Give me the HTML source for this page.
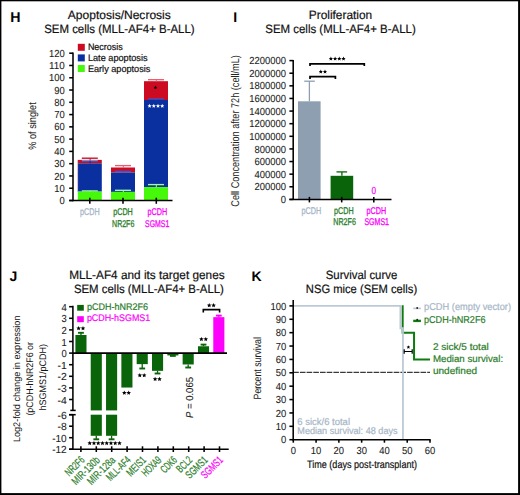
<!DOCTYPE html>
<html><head><meta charset="utf-8"><style>
html,body{margin:0;padding:0;background:#fff;}
body{width:520px;height:495px;overflow:hidden;}
svg{display:block;font-family:"Liberation Sans", sans-serif;text-rendering:geometricPrecision;}
</style></head><body>
<svg width="520" height="495" viewBox="0 0 520 495">
<rect width="520" height="495" fill="#fff"/>
<rect x="0.00" y="0.00" width="520.00" height="1.30" fill="#000"/>
<rect x="0.00" y="0.00" width="1.40" height="495.00" fill="#000"/>
<rect x="518.10" y="0.00" width="1.90" height="495.00" fill="#000"/>
<rect x="0.00" y="493.10" width="520.00" height="1.90" fill="#000"/>
<text x="10.20" y="21.50" font-size="14.2" fill="#000" font-weight="bold" >H</text>
<text x="233.20" y="21.50" font-size="14" fill="#000" font-weight="bold" >I</text>
<text x="9.60" y="281.00" font-size="14" fill="#000" font-weight="bold" >J</text>
<text x="251.40" y="281.00" font-size="14" fill="#000" font-weight="bold" >K</text>
<text x="119.30" y="19.40" font-size="12.1" fill="#111" stroke="#111" stroke-width="0.2" text-anchor="middle" textLength="103.00" lengthAdjust="spacingAndGlyphs" >Apoptosis/Necrosis</text>
<text x="119.40" y="33.40" font-size="12.1" fill="#111" stroke="#111" stroke-width="0.2" text-anchor="middle" textLength="150.50" lengthAdjust="spacingAndGlyphs" >SEM cells (MLL-AF4+ B-ALL)</text>
<rect x="77.80" y="159.90" width="24.00" height="3.40" fill="#cc0a22"/>
<rect x="77.80" y="163.30" width="24.00" height="28.30" fill="#0a30a0"/>
<rect x="77.80" y="191.60" width="24.00" height="8.90" fill="#46f80a"/>
<line x1="81.80" y1="158.20" x2="97.80" y2="158.20" stroke="#cc0a22" stroke-width="1.35" />
<line x1="90.10" y1="158.20" x2="90.10" y2="160.20" stroke="#cc0a22" stroke-width="1.0" />
<line x1="81.80" y1="160.60" x2="97.80" y2="160.60" stroke="#5a9af0" stroke-width="1.35" />
<line x1="90.10" y1="160.60" x2="90.10" y2="163.50" stroke="#0a30a0" stroke-width="1.0" />
<line x1="81.80" y1="190.90" x2="97.80" y2="190.90" stroke="#90ff80" stroke-width="1.35" />
<line x1="90.10" y1="190.90" x2="90.10" y2="191.80" stroke="#90ff80" stroke-width="1.0" />
<rect x="111.00" y="167.50" width="24.00" height="5.00" fill="#cc0a22"/>
<rect x="111.00" y="172.50" width="24.00" height="19.40" fill="#0a30a0"/>
<rect x="111.00" y="191.90" width="24.00" height="8.60" fill="#46f80a"/>
<line x1="115.00" y1="165.60" x2="131.00" y2="165.60" stroke="#e06070" stroke-width="1.35" />
<line x1="123.30" y1="165.60" x2="123.30" y2="167.80" stroke="#e06070" stroke-width="1.0" />
<line x1="115.00" y1="171.30" x2="131.00" y2="171.30" stroke="#4a50c0" stroke-width="1.35" />
<line x1="123.30" y1="171.30" x2="123.30" y2="172.70" stroke="#4a50c0" stroke-width="1.0" />
<line x1="115.00" y1="190.30" x2="131.00" y2="190.30" stroke="#a0ff90" stroke-width="1.35" />
<line x1="123.30" y1="190.30" x2="123.30" y2="192.00" stroke="#a0ff90" stroke-width="1.0" />
<rect x="144.00" y="81.20" width="24.00" height="18.80" fill="#cc0a22"/>
<rect x="144.00" y="100.00" width="24.00" height="87.10" fill="#0a30a0"/>
<rect x="144.00" y="187.10" width="24.00" height="13.40" fill="#46f80a"/>
<line x1="148.00" y1="79.70" x2="164.00" y2="79.70" stroke="#e86070" stroke-width="1.35" />
<line x1="156.30" y1="79.70" x2="156.30" y2="81.40" stroke="#e86070" stroke-width="1.0" />
<line x1="148.00" y1="98.70" x2="164.00" y2="98.70" stroke="#3050d0" stroke-width="1.35" />
<line x1="156.30" y1="98.70" x2="156.30" y2="100.20" stroke="#3050d0" stroke-width="1.0" />
<line x1="148.00" y1="184.60" x2="164.00" y2="184.60" stroke="#a0ff90" stroke-width="1.35" />
<line x1="156.30" y1="184.60" x2="156.30" y2="187.30" stroke="#a0ff90" stroke-width="1.0" />
<line x1="77.60" y1="160.20" x2="77.60" y2="188.50" stroke="#f4a8b0" stroke-width="0.6" />
<line x1="77.60" y1="188.50" x2="77.60" y2="192.00" stroke="#a8b8f0" stroke-width="0.6" />
<line x1="73.00" y1="52.50" x2="73.00" y2="201.20" stroke="#000" stroke-width="1.55" />
<line x1="69.20" y1="200.50" x2="73.00" y2="200.50" stroke="#000" stroke-width="1.55" />
<text x="64.70" y="204.10" font-size="10.2" fill="#1a1a1a" stroke="#1a1a1a" stroke-width="0.08" text-anchor="end" textLength="5.25" lengthAdjust="spacingAndGlyphs" >0</text>
<line x1="69.20" y1="188.22" x2="73.00" y2="188.22" stroke="#000" stroke-width="1.55" />
<text x="64.70" y="191.82" font-size="10.2" fill="#1a1a1a" stroke="#1a1a1a" stroke-width="0.08" text-anchor="end" textLength="10.50" lengthAdjust="spacingAndGlyphs" >10</text>
<line x1="69.20" y1="175.95" x2="73.00" y2="175.95" stroke="#000" stroke-width="1.55" />
<text x="64.70" y="179.55" font-size="10.2" fill="#1a1a1a" stroke="#1a1a1a" stroke-width="0.08" text-anchor="end" textLength="10.50" lengthAdjust="spacingAndGlyphs" >20</text>
<line x1="69.20" y1="163.68" x2="73.00" y2="163.68" stroke="#000" stroke-width="1.55" />
<text x="64.70" y="167.28" font-size="10.2" fill="#1a1a1a" stroke="#1a1a1a" stroke-width="0.08" text-anchor="end" textLength="10.50" lengthAdjust="spacingAndGlyphs" >30</text>
<line x1="69.20" y1="151.40" x2="73.00" y2="151.40" stroke="#000" stroke-width="1.55" />
<text x="64.70" y="155.00" font-size="10.2" fill="#1a1a1a" stroke="#1a1a1a" stroke-width="0.08" text-anchor="end" textLength="10.50" lengthAdjust="spacingAndGlyphs" >40</text>
<line x1="69.20" y1="139.12" x2="73.00" y2="139.12" stroke="#000" stroke-width="1.55" />
<text x="64.70" y="142.72" font-size="10.2" fill="#1a1a1a" stroke="#1a1a1a" stroke-width="0.08" text-anchor="end" textLength="10.50" lengthAdjust="spacingAndGlyphs" >50</text>
<line x1="69.20" y1="126.85" x2="73.00" y2="126.85" stroke="#000" stroke-width="1.55" />
<text x="64.70" y="130.45" font-size="10.2" fill="#1a1a1a" stroke="#1a1a1a" stroke-width="0.08" text-anchor="end" textLength="10.50" lengthAdjust="spacingAndGlyphs" >60</text>
<line x1="69.20" y1="114.58" x2="73.00" y2="114.58" stroke="#000" stroke-width="1.55" />
<text x="64.70" y="118.17" font-size="10.2" fill="#1a1a1a" stroke="#1a1a1a" stroke-width="0.08" text-anchor="end" textLength="10.50" lengthAdjust="spacingAndGlyphs" >70</text>
<line x1="69.20" y1="102.30" x2="73.00" y2="102.30" stroke="#000" stroke-width="1.55" />
<text x="64.70" y="105.90" font-size="10.2" fill="#1a1a1a" stroke="#1a1a1a" stroke-width="0.08" text-anchor="end" textLength="10.50" lengthAdjust="spacingAndGlyphs" >80</text>
<line x1="69.20" y1="90.02" x2="73.00" y2="90.02" stroke="#000" stroke-width="1.55" />
<text x="64.70" y="93.62" font-size="10.2" fill="#1a1a1a" stroke="#1a1a1a" stroke-width="0.08" text-anchor="end" textLength="10.50" lengthAdjust="spacingAndGlyphs" >90</text>
<line x1="69.20" y1="77.75" x2="73.00" y2="77.75" stroke="#000" stroke-width="1.55" />
<text x="64.70" y="81.35" font-size="10.2" fill="#1a1a1a" stroke="#1a1a1a" stroke-width="0.08" text-anchor="end" textLength="15.75" lengthAdjust="spacingAndGlyphs" >100</text>
<line x1="69.20" y1="65.47" x2="73.00" y2="65.47" stroke="#000" stroke-width="1.55" />
<text x="64.70" y="69.07" font-size="10.2" fill="#1a1a1a" stroke="#1a1a1a" stroke-width="0.08" text-anchor="end" textLength="15.75" lengthAdjust="spacingAndGlyphs" >110</text>
<line x1="69.20" y1="53.20" x2="73.00" y2="53.20" stroke="#000" stroke-width="1.55" />
<text x="64.70" y="56.80" font-size="10.2" fill="#1a1a1a" stroke="#1a1a1a" stroke-width="0.08" text-anchor="end" textLength="15.75" lengthAdjust="spacingAndGlyphs" >120</text>
<line x1="69.20" y1="200.50" x2="172.50" y2="200.50" stroke="#000" stroke-width="1.55" />
<line x1="89.80" y1="197.70" x2="89.80" y2="203.80" stroke="#000" stroke-width="1.55" />
<line x1="123.00" y1="197.70" x2="123.00" y2="203.80" stroke="#000" stroke-width="1.55" />
<line x1="156.30" y1="197.70" x2="156.30" y2="203.80" stroke="#000" stroke-width="1.55" />
<rect x="77.80" y="43.80" width="7.00" height="7.00" fill="#cc0a22"/>
<text x="87.90" y="50.30" font-size="9.4" fill="#111" stroke="#111" stroke-width="0.2" textLength="34.80" lengthAdjust="spacingAndGlyphs" >Necrosis</text>
<rect x="77.80" y="54.40" width="7.00" height="7.00" fill="#0a30a0"/>
<text x="87.90" y="61.00" font-size="9.4" fill="#111" stroke="#111" stroke-width="0.2" textLength="59.70" lengthAdjust="spacingAndGlyphs" >Late apoptosis</text>
<rect x="77.80" y="65.00" width="7.00" height="7.00" fill="#46f80a"/>
<text x="87.90" y="71.70" font-size="9.4" fill="#111" stroke="#111" stroke-width="0.2" textLength="62.50" lengthAdjust="spacingAndGlyphs" >Early apoptosis</text>
<text x="36.20" y="126.00" font-size="10.8" fill="#1a1a1a" stroke="#1a1a1a" stroke-width="0.05" text-anchor="middle" textLength="47.50" lengthAdjust="spacingAndGlyphs" transform="rotate(-90 36.20 126.00)" >% of singlet</text>
<path d="M155.50,85.59 L156.02,86.77 L157.31,86.90 L156.35,87.77 L156.62,89.03 L155.50,88.38 L154.38,89.03 L154.65,87.77 L153.69,86.90 L154.98,86.77 Z" fill="#000"/>
<path d="M149.60,103.82 L150.21,105.18 L151.69,105.34 L150.58,106.34 L150.89,107.80 L149.60,107.05 L148.31,107.80 L148.62,106.34 L147.51,105.34 L148.99,105.18 Z M153.80,103.82 L154.41,105.18 L155.89,105.34 L154.78,106.34 L155.09,107.80 L153.80,107.05 L152.51,107.80 L152.82,106.34 L151.71,105.34 L153.19,105.18 Z M158.00,103.82 L158.61,105.18 L160.09,105.34 L158.98,106.34 L159.29,107.80 L158.00,107.05 L156.71,107.80 L157.02,106.34 L155.91,105.34 L157.39,105.18 Z M162.20,103.82 L162.81,105.18 L164.29,105.34 L163.18,106.34 L163.49,107.80 L162.20,107.05 L160.91,107.80 L161.22,106.34 L160.11,105.34 L161.59,105.18 Z" fill="#fff"/>
<text x="89.80" y="215.40" font-size="9.8" fill="#a6b6c6" stroke="#a6b6c6" stroke-width="0.3" text-anchor="middle" textLength="19.60" lengthAdjust="spacingAndGlyphs" >pCDH</text>
<text x="123.00" y="215.40" font-size="9.8" fill="#2a7d2a" stroke="#2a7d2a" stroke-width="0.3" text-anchor="middle" textLength="19.60" lengthAdjust="spacingAndGlyphs" >pCDH</text>
<text x="123.20" y="226.80" font-size="9.8" fill="#2a7d2a" stroke="#2a7d2a" stroke-width="0.3" text-anchor="middle" textLength="22.30" lengthAdjust="spacingAndGlyphs" >NR2F6</text>
<text x="157.40" y="215.40" font-size="9.8" fill="#fc00fc" stroke="#fc00fc" stroke-width="0.3" text-anchor="middle" textLength="19.60" lengthAdjust="spacingAndGlyphs" >pCDH</text>
<text x="157.20" y="226.80" font-size="9.8" fill="#fc00fc" stroke="#fc00fc" stroke-width="0.3" text-anchor="middle" textLength="24.30" lengthAdjust="spacingAndGlyphs" >SGMS1</text>
<text x="340.50" y="19.40" font-size="12.1" fill="#111" stroke="#111" stroke-width="0.2" text-anchor="middle" textLength="63.50" lengthAdjust="spacingAndGlyphs" >Proliferation</text>
<text x="340.50" y="33.40" font-size="12.1" fill="#111" stroke="#111" stroke-width="0.2" text-anchor="middle" textLength="150.50" lengthAdjust="spacingAndGlyphs" >SEM cells (MLL-AF4+ B-ALL)</text>
<rect x="298.00" y="101.30" width="22.60" height="98.10" fill="#8d9fb1"/>
<line x1="309.40" y1="101.30" x2="309.40" y2="81.20" stroke="#8d9fb1" stroke-width="1.3" />
<line x1="304.20" y1="81.20" x2="314.80" y2="81.20" stroke="#8d9fb1" stroke-width="1.3" />
<rect x="330.60" y="175.80" width="22.60" height="23.60" fill="#0a640a"/>
<line x1="341.90" y1="175.80" x2="341.90" y2="171.90" stroke="#0a640a" stroke-width="1.3" />
<line x1="336.50" y1="171.90" x2="347.10" y2="171.90" stroke="#0a640a" stroke-width="1.3" />
<line x1="293.20" y1="59.90" x2="293.20" y2="200.10" stroke="#000" stroke-width="1.55" />
<line x1="289.40" y1="199.40" x2="293.20" y2="199.40" stroke="#000" stroke-width="1.55" />
<text x="286.00" y="203.00" font-size="10.2" fill="#1a1a1a" stroke="#1a1a1a" stroke-width="0.08" text-anchor="end" textLength="5.25" lengthAdjust="spacingAndGlyphs" >0</text>
<line x1="289.40" y1="186.78" x2="293.20" y2="186.78" stroke="#000" stroke-width="1.55" />
<text x="286.00" y="190.38" font-size="10.2" fill="#1a1a1a" stroke="#1a1a1a" stroke-width="0.08" text-anchor="end" textLength="31.50" lengthAdjust="spacingAndGlyphs" >200000</text>
<line x1="289.40" y1="174.16" x2="293.20" y2="174.16" stroke="#000" stroke-width="1.55" />
<text x="286.00" y="177.76" font-size="10.2" fill="#1a1a1a" stroke="#1a1a1a" stroke-width="0.08" text-anchor="end" textLength="31.50" lengthAdjust="spacingAndGlyphs" >400000</text>
<line x1="289.40" y1="161.55" x2="293.20" y2="161.55" stroke="#000" stroke-width="1.55" />
<text x="286.00" y="165.15" font-size="10.2" fill="#1a1a1a" stroke="#1a1a1a" stroke-width="0.08" text-anchor="end" textLength="31.50" lengthAdjust="spacingAndGlyphs" >600000</text>
<line x1="289.40" y1="148.93" x2="293.20" y2="148.93" stroke="#000" stroke-width="1.55" />
<text x="286.00" y="152.53" font-size="10.2" fill="#1a1a1a" stroke="#1a1a1a" stroke-width="0.08" text-anchor="end" textLength="31.50" lengthAdjust="spacingAndGlyphs" >800000</text>
<line x1="289.40" y1="136.31" x2="293.20" y2="136.31" stroke="#000" stroke-width="1.55" />
<text x="286.00" y="139.91" font-size="10.2" fill="#1a1a1a" stroke="#1a1a1a" stroke-width="0.08" text-anchor="end" textLength="36.75" lengthAdjust="spacingAndGlyphs" >1000000</text>
<line x1="289.40" y1="123.69" x2="293.20" y2="123.69" stroke="#000" stroke-width="1.55" />
<text x="286.00" y="127.29" font-size="10.2" fill="#1a1a1a" stroke="#1a1a1a" stroke-width="0.08" text-anchor="end" textLength="36.75" lengthAdjust="spacingAndGlyphs" >1200000</text>
<line x1="289.40" y1="111.07" x2="293.20" y2="111.07" stroke="#000" stroke-width="1.55" />
<text x="286.00" y="114.67" font-size="10.2" fill="#1a1a1a" stroke="#1a1a1a" stroke-width="0.08" text-anchor="end" textLength="36.75" lengthAdjust="spacingAndGlyphs" >1400000</text>
<line x1="289.40" y1="98.45" x2="293.20" y2="98.45" stroke="#000" stroke-width="1.55" />
<text x="286.00" y="102.05" font-size="10.2" fill="#1a1a1a" stroke="#1a1a1a" stroke-width="0.08" text-anchor="end" textLength="36.75" lengthAdjust="spacingAndGlyphs" >1600000</text>
<line x1="289.40" y1="85.84" x2="293.20" y2="85.84" stroke="#000" stroke-width="1.55" />
<text x="286.00" y="89.44" font-size="10.2" fill="#1a1a1a" stroke="#1a1a1a" stroke-width="0.08" text-anchor="end" textLength="36.75" lengthAdjust="spacingAndGlyphs" >1800000</text>
<line x1="289.40" y1="73.22" x2="293.20" y2="73.22" stroke="#000" stroke-width="1.55" />
<text x="286.00" y="76.82" font-size="10.2" fill="#1a1a1a" stroke="#1a1a1a" stroke-width="0.08" text-anchor="end" textLength="36.75" lengthAdjust="spacingAndGlyphs" >2000000</text>
<line x1="289.40" y1="60.60" x2="293.20" y2="60.60" stroke="#000" stroke-width="1.55" />
<text x="286.00" y="64.20" font-size="10.2" fill="#1a1a1a" stroke="#1a1a1a" stroke-width="0.08" text-anchor="end" textLength="36.75" lengthAdjust="spacingAndGlyphs" >2200000</text>
<line x1="289.40" y1="199.40" x2="391.50" y2="199.40" stroke="#000" stroke-width="1.55" />
<line x1="309.40" y1="196.90" x2="309.40" y2="202.40" stroke="#000" stroke-width="1.55" />
<line x1="341.70" y1="196.90" x2="341.70" y2="202.40" stroke="#000" stroke-width="1.55" />
<line x1="373.80" y1="196.90" x2="373.80" y2="202.40" stroke="#000" stroke-width="1.55" />
<text x="239.40" y="130.90" font-size="11.2" fill="#222" text-anchor="middle" textLength="151.50" lengthAdjust="spacingAndGlyphs" transform="rotate(-90 239.40 130.90)" >Cell Concentration after 72h (cell/mL)</text>
<text x="373.80" y="193.80" font-size="10.2" fill="#fc00fc" stroke="#fc00fc" stroke-width="0.2" text-anchor="middle" textLength="4.60" lengthAdjust="spacingAndGlyphs" >0</text>
<path d="M310,66 V63.8 H364.3 V66" stroke="#000" stroke-width="1.7" fill="none" />
<path d="M310,79 V76.7 H335.4 V79" stroke="#000" stroke-width="1.7" fill="none" />
<path d="M330.90,56.62 L331.51,57.98 L332.99,58.14 L331.88,59.14 L332.19,60.60 L330.90,59.85 L329.61,60.60 L329.92,59.14 L328.81,58.14 L330.29,57.98 Z M335.10,56.62 L335.71,57.98 L337.19,58.14 L336.08,59.14 L336.39,60.60 L335.10,59.85 L333.81,60.60 L334.12,59.14 L333.01,58.14 L334.49,57.98 Z M339.30,56.62 L339.91,57.98 L341.39,58.14 L340.28,59.14 L340.59,60.60 L339.30,59.85 L338.01,60.60 L338.32,59.14 L337.21,58.14 L338.69,57.98 Z M343.50,56.62 L344.11,57.98 L345.59,58.14 L344.48,59.14 L344.79,60.60 L343.50,59.85 L342.21,60.60 L342.52,59.14 L341.41,58.14 L342.89,57.98 Z" fill="#000"/>
<path d="M320.80,69.52 L321.41,70.88 L322.89,71.04 L321.78,72.04 L322.09,73.50 L320.80,72.75 L319.51,73.50 L319.82,72.04 L318.71,71.04 L320.19,70.88 Z M325.00,69.52 L325.61,70.88 L327.09,71.04 L325.98,72.04 L326.29,73.50 L325.00,72.75 L323.71,73.50 L324.02,72.04 L322.91,71.04 L324.39,70.88 Z" fill="#000"/>
<text x="311.40" y="213.80" font-size="9.8" fill="#a6b6c6" stroke="#a6b6c6" stroke-width="0.3" text-anchor="middle" textLength="19.60" lengthAdjust="spacingAndGlyphs" >pCDH</text>
<text x="343.90" y="213.80" font-size="9.8" fill="#2a7d2a" stroke="#2a7d2a" stroke-width="0.3" text-anchor="middle" textLength="19.60" lengthAdjust="spacingAndGlyphs" >pCDH</text>
<text x="344.60" y="224.80" font-size="9.8" fill="#2a7d2a" stroke="#2a7d2a" stroke-width="0.3" text-anchor="middle" textLength="22.50" lengthAdjust="spacingAndGlyphs" >NR2F6</text>
<text x="376.30" y="213.80" font-size="9.8" fill="#fc00fc" stroke="#fc00fc" stroke-width="0.3" text-anchor="middle" textLength="19.60" lengthAdjust="spacingAndGlyphs" >pCDH</text>
<text x="376.70" y="224.80" font-size="9.8" fill="#fc00fc" stroke="#fc00fc" stroke-width="0.3" text-anchor="middle" textLength="24.50" lengthAdjust="spacingAndGlyphs" >SGMS1</text>
<text x="146.90" y="279.20" font-size="12.1" fill="#111" stroke="#111" stroke-width="0.2" text-anchor="middle" textLength="155.50" lengthAdjust="spacingAndGlyphs" >MLL-AF4 and its target genes</text>
<text x="148.90" y="293.00" font-size="12.1" fill="#111" stroke="#111" stroke-width="0.2" text-anchor="middle" textLength="150.00" lengthAdjust="spacingAndGlyphs" >SEM cells (MLL-AF4+ B-ALL)</text>
<rect x="77.20" y="304.90" width="6.60" height="5.80" fill="#0a640a"/>
<text x="86.90" y="310.20" font-size="9.6" fill="#2a7d2a" stroke="#2a7d2a" stroke-width="0.2" textLength="61.00" lengthAdjust="spacingAndGlyphs" >pCDH-hNR2F6</text>
<rect x="77.20" y="316.20" width="6.60" height="6.00" fill="#fc00fc"/>
<text x="86.90" y="321.00" font-size="9.6" fill="#fc00fc" stroke="#fc00fc" stroke-width="0.2" textLength="63.30" lengthAdjust="spacingAndGlyphs" >pCDH-hSGMS1</text>
<rect x="75.40" y="335.00" width="11.10" height="18.10" fill="#0a640a"/>
<rect x="90.72" y="353.10" width="11.10" height="57.30" fill="#0a640a"/>
<rect x="90.72" y="414.70" width="11.10" height="21.10" fill="#0a640a"/>
<rect x="106.04" y="353.10" width="11.10" height="57.30" fill="#0a640a"/>
<rect x="106.04" y="414.70" width="11.10" height="21.10" fill="#0a640a"/>
<rect x="121.36" y="353.10" width="11.10" height="34.44" fill="#0a640a"/>
<rect x="136.68" y="353.10" width="11.10" height="11.02" fill="#0a640a"/>
<rect x="152.00" y="353.10" width="11.10" height="17.75" fill="#0a640a"/>
<rect x="167.32" y="353.10" width="11.10" height="2.32" fill="#0a640a"/>
<rect x="182.64" y="353.10" width="11.10" height="11.37" fill="#0a640a"/>
<rect x="197.96" y="346.26" width="11.10" height="6.84" fill="#0a640a"/>
<rect x="213.28" y="317.14" width="11.10" height="35.96" fill="#fc00fc"/>
<line x1="80.95" y1="335.00" x2="80.95" y2="332.80" stroke="#0a640a" stroke-width="1.3" />
<line x1="78.05" y1="332.80" x2="83.85" y2="332.80" stroke="#0a640a" stroke-width="1.9" />
<line x1="96.27" y1="435.80" x2="96.27" y2="439.30" stroke="#0a640a" stroke-width="1.3" />
<line x1="93.37" y1="439.30" x2="99.17" y2="439.30" stroke="#0a640a" stroke-width="1.9" />
<line x1="111.59" y1="435.80" x2="111.59" y2="439.30" stroke="#0a640a" stroke-width="1.3" />
<line x1="108.69" y1="439.30" x2="114.49" y2="439.30" stroke="#0a640a" stroke-width="1.9" />
<line x1="142.23" y1="363.90" x2="142.23" y2="368.50" stroke="#0a640a" stroke-width="1.3" />
<line x1="139.33" y1="368.50" x2="145.13" y2="368.50" stroke="#0a640a" stroke-width="1.9" />
<line x1="157.55" y1="370.80" x2="157.55" y2="373.50" stroke="#0a640a" stroke-width="1.3" />
<line x1="154.65" y1="373.50" x2="160.45" y2="373.50" stroke="#0a640a" stroke-width="1.9" />
<line x1="172.87" y1="355.50" x2="172.87" y2="355.90" stroke="#0a640a" stroke-width="1.3" />
<line x1="169.97" y1="355.90" x2="175.77" y2="355.90" stroke="#0a640a" stroke-width="1.9" />
<line x1="188.19" y1="364.60" x2="188.19" y2="367.50" stroke="#0a640a" stroke-width="1.3" />
<line x1="185.29" y1="367.50" x2="191.09" y2="367.50" stroke="#0a640a" stroke-width="1.9" />
<line x1="203.51" y1="346.20" x2="203.51" y2="344.60" stroke="#0a640a" stroke-width="1.3" />
<line x1="200.61" y1="344.60" x2="206.41" y2="344.60" stroke="#0a640a" stroke-width="1.9" />
<line x1="218.83" y1="317.60" x2="218.83" y2="315.60" stroke="#fc00fc" stroke-width="1.3" />
<line x1="215.93" y1="315.60" x2="221.73" y2="315.60" stroke="#fc00fc" stroke-width="1.9" />
<line x1="72.90" y1="305.80" x2="72.90" y2="410.40" stroke="#000" stroke-width="1.55" />
<line x1="72.90" y1="414.70" x2="72.90" y2="449.90" stroke="#000" stroke-width="1.55" />
<line x1="70.30" y1="410.40" x2="75.70" y2="410.40" stroke="#000" stroke-width="1.55" />
<line x1="69.10" y1="414.70" x2="75.70" y2="414.70" stroke="#000" stroke-width="1.55" />
<line x1="69.10" y1="306.70" x2="72.90" y2="306.70" stroke="#000" stroke-width="1.55" />
<text x="66.70" y="310.80" font-size="10.2" fill="#1a1a1a" stroke="#1a1a1a" stroke-width="0.08" text-anchor="end" textLength="5.25" lengthAdjust="spacingAndGlyphs" >4</text>
<line x1="69.10" y1="318.30" x2="72.90" y2="318.30" stroke="#000" stroke-width="1.55" />
<text x="66.70" y="322.40" font-size="10.2" fill="#1a1a1a" stroke="#1a1a1a" stroke-width="0.08" text-anchor="end" textLength="5.25" lengthAdjust="spacingAndGlyphs" >3</text>
<line x1="69.10" y1="329.90" x2="72.90" y2="329.90" stroke="#000" stroke-width="1.55" />
<text x="66.70" y="334.00" font-size="10.2" fill="#1a1a1a" stroke="#1a1a1a" stroke-width="0.08" text-anchor="end" textLength="5.25" lengthAdjust="spacingAndGlyphs" >2</text>
<line x1="69.10" y1="341.50" x2="72.90" y2="341.50" stroke="#000" stroke-width="1.55" />
<text x="66.70" y="345.60" font-size="10.2" fill="#1a1a1a" stroke="#1a1a1a" stroke-width="0.08" text-anchor="end" textLength="5.25" lengthAdjust="spacingAndGlyphs" >1</text>
<line x1="69.10" y1="353.10" x2="72.90" y2="353.10" stroke="#000" stroke-width="1.55" />
<text x="66.70" y="357.20" font-size="10.2" fill="#1a1a1a" stroke="#1a1a1a" stroke-width="0.08" text-anchor="end" textLength="5.25" lengthAdjust="spacingAndGlyphs" >0</text>
<line x1="69.10" y1="364.70" x2="72.90" y2="364.70" stroke="#000" stroke-width="1.55" />
<text x="66.70" y="368.80" font-size="10.2" fill="#1a1a1a" stroke="#1a1a1a" stroke-width="0.08" text-anchor="end" textLength="9.25" lengthAdjust="spacingAndGlyphs" >-1</text>
<line x1="69.10" y1="376.30" x2="72.90" y2="376.30" stroke="#000" stroke-width="1.55" />
<text x="66.70" y="380.40" font-size="10.2" fill="#1a1a1a" stroke="#1a1a1a" stroke-width="0.08" text-anchor="end" textLength="9.25" lengthAdjust="spacingAndGlyphs" >-2</text>
<line x1="69.10" y1="387.90" x2="72.90" y2="387.90" stroke="#000" stroke-width="1.55" />
<text x="66.70" y="392.00" font-size="10.2" fill="#1a1a1a" stroke="#1a1a1a" stroke-width="0.08" text-anchor="end" textLength="9.25" lengthAdjust="spacingAndGlyphs" >-3</text>
<line x1="69.10" y1="399.50" x2="72.90" y2="399.50" stroke="#000" stroke-width="1.55" />
<text x="66.70" y="403.60" font-size="10.2" fill="#1a1a1a" stroke="#1a1a1a" stroke-width="0.08" text-anchor="end" textLength="9.25" lengthAdjust="spacingAndGlyphs" >-4</text>
<line x1="69.10" y1="414.70" x2="72.90" y2="414.70" stroke="#000" stroke-width="1.55" />
<text x="66.70" y="418.80" font-size="10.2" fill="#1a1a1a" stroke="#1a1a1a" stroke-width="0.08" text-anchor="end" textLength="9.25" lengthAdjust="spacingAndGlyphs" >-6</text>
<line x1="69.10" y1="426.20" x2="72.90" y2="426.20" stroke="#000" stroke-width="1.55" />
<text x="66.70" y="430.30" font-size="10.2" fill="#1a1a1a" stroke="#1a1a1a" stroke-width="0.08" text-anchor="end" textLength="9.25" lengthAdjust="spacingAndGlyphs" >-8</text>
<line x1="69.10" y1="437.70" x2="72.90" y2="437.70" stroke="#000" stroke-width="1.55" />
<text x="66.70" y="441.80" font-size="10.2" fill="#1a1a1a" stroke="#1a1a1a" stroke-width="0.08" text-anchor="end" textLength="14.50" lengthAdjust="spacingAndGlyphs" >-10</text>
<line x1="69.10" y1="449.20" x2="72.90" y2="449.20" stroke="#000" stroke-width="1.55" />
<text x="66.70" y="453.30" font-size="10.2" fill="#1a1a1a" stroke="#1a1a1a" stroke-width="0.08" text-anchor="end" textLength="14.50" lengthAdjust="spacingAndGlyphs" >-12</text>
<line x1="72.90" y1="353.10" x2="227.00" y2="353.10" stroke="#000" stroke-width="1.55" />
<line x1="69.10" y1="449.20" x2="228.70" y2="449.20" stroke="#000" stroke-width="1.55" />
<line x1="80.90" y1="446.30" x2="80.90" y2="452.00" stroke="#000" stroke-width="1.55" />
<line x1="96.30" y1="446.30" x2="96.30" y2="452.00" stroke="#000" stroke-width="1.55" />
<line x1="111.70" y1="446.30" x2="111.70" y2="452.00" stroke="#000" stroke-width="1.55" />
<line x1="127.10" y1="446.30" x2="127.10" y2="452.00" stroke="#000" stroke-width="1.55" />
<line x1="142.50" y1="446.30" x2="142.50" y2="452.00" stroke="#000" stroke-width="1.55" />
<line x1="157.90" y1="446.30" x2="157.90" y2="452.00" stroke="#000" stroke-width="1.55" />
<line x1="173.30" y1="446.30" x2="173.30" y2="452.00" stroke="#000" stroke-width="1.55" />
<line x1="188.70" y1="446.30" x2="188.70" y2="452.00" stroke="#000" stroke-width="1.55" />
<line x1="204.10" y1="446.30" x2="204.10" y2="452.00" stroke="#000" stroke-width="1.55" />
<line x1="219.50" y1="446.30" x2="219.50" y2="452.00" stroke="#000" stroke-width="1.55" />
<path d="M78.60,325.99 L79.25,327.44 L80.83,327.61 L79.65,328.68 L79.98,330.24 L78.60,329.44 L77.22,330.24 L77.55,328.68 L76.37,327.61 L77.95,327.44 Z M83.00,325.99 L83.65,327.44 L85.23,327.61 L84.05,328.68 L84.38,330.24 L83.00,329.44 L81.62,330.24 L81.95,328.68 L80.77,327.61 L82.35,327.44 Z" fill="#000"/>
<path d="M89.72,440.88 L90.37,442.34 L91.96,442.51 L90.78,443.58 L91.11,445.14 L89.72,444.34 L88.34,445.14 L88.67,443.58 L87.49,442.51 L89.08,442.34 Z M93.97,440.88 L94.62,442.34 L96.21,442.51 L95.03,443.58 L95.36,445.14 L93.97,444.34 L92.59,445.14 L92.92,443.58 L91.74,442.51 L93.33,442.34 Z M98.22,440.88 L98.87,442.34 L100.46,442.51 L99.28,443.58 L99.61,445.14 L98.22,444.34 L96.84,445.14 L97.17,443.58 L95.99,442.51 L97.58,442.34 Z M102.47,440.88 L103.12,442.34 L104.71,442.51 L103.53,443.58 L103.86,445.14 L102.47,444.34 L101.09,445.14 L101.42,443.58 L100.24,442.51 L101.83,442.34 Z M106.72,440.88 L107.37,442.34 L108.96,442.51 L107.78,443.58 L108.11,445.14 L106.72,444.34 L105.34,445.14 L105.67,443.58 L104.49,442.51 L106.08,442.34 Z M110.97,440.88 L111.62,442.34 L113.21,442.51 L112.03,443.58 L112.36,445.14 L110.97,444.34 L109.59,445.14 L109.92,443.58 L108.74,442.51 L110.33,442.34 Z M115.22,440.88 L115.87,442.34 L117.46,442.51 L116.28,443.58 L116.61,445.14 L115.22,444.34 L113.84,445.14 L114.17,443.58 L112.99,442.51 L114.58,442.34 Z M119.47,440.88 L120.12,442.34 L121.71,442.51 L120.53,443.58 L120.86,445.14 L119.47,444.34 L118.09,445.14 L118.42,443.58 L117.24,442.51 L118.83,442.34 Z" fill="#000"/>
<path d="M124.30,390.49 L124.95,391.94 L126.53,392.11 L125.35,393.18 L125.68,394.74 L124.30,393.94 L122.92,394.74 L123.25,393.18 L122.07,392.11 L123.65,391.94 Z M128.70,390.49 L129.35,391.94 L130.93,392.11 L129.75,393.18 L130.08,394.74 L128.70,393.94 L127.32,394.74 L127.65,393.18 L126.47,392.11 L128.05,391.94 Z" fill="#000"/>
<path d="M139.80,372.99 L140.45,374.44 L142.03,374.61 L140.85,375.68 L141.18,377.24 L139.80,376.44 L138.42,377.24 L138.75,375.68 L137.57,374.61 L139.15,374.44 Z M144.20,372.99 L144.85,374.44 L146.43,374.61 L145.25,375.68 L145.58,377.24 L144.20,376.44 L142.82,377.24 L143.15,375.68 L141.97,374.61 L143.55,374.44 Z" fill="#000"/>
<path d="M155.10,376.69 L155.75,378.14 L157.33,378.31 L156.15,379.38 L156.48,380.94 L155.10,380.14 L153.72,380.94 L154.05,379.38 L152.87,378.31 L154.45,378.14 Z M159.50,376.69 L160.15,378.14 L161.73,378.31 L160.55,379.38 L160.88,380.94 L159.50,380.14 L158.12,380.94 L158.45,379.38 L157.27,378.31 L158.85,378.14 Z" fill="#000"/>
<path d="M201.40,336.88 L202.05,338.34 L203.63,338.51 L202.45,339.58 L202.78,341.14 L201.40,340.34 L200.02,341.14 L200.35,339.58 L199.17,338.51 L200.75,338.34 Z M205.80,336.88 L206.45,338.34 L208.03,338.51 L206.85,339.58 L207.18,341.14 L205.80,340.34 L204.42,341.14 L204.75,339.58 L203.57,338.51 L205.15,338.34 Z" fill="#000"/>
<path d="M209.20,303.08 L209.85,304.54 L211.43,304.71 L210.25,305.78 L210.58,307.34 L209.20,306.54 L207.82,307.34 L208.15,305.78 L206.97,304.71 L208.55,304.54 Z M213.60,303.08 L214.25,304.54 L215.83,304.71 L214.65,305.78 L214.98,307.34 L213.60,306.54 L212.22,307.34 L212.55,305.78 L211.37,304.71 L212.95,304.54 Z" fill="#000"/>
<path d="M203.3,312.4 V309.6 H219.6 V312.4" stroke="#000" stroke-width="1.6" fill="none" />
<text x="192.80" y="397.50" font-size="10" fill="#222" stroke="#222" stroke-width="0.1" text-anchor="middle" textLength="41" lengthAdjust="spacingAndGlyphs" transform="rotate(-90 192.80 397.50)"><tspan font-style="italic">P</tspan> = 0.065</text>
<text x="19.80" y="378.80" font-size="9.6" fill="#111" text-anchor="middle" textLength="126.60" lengthAdjust="spacingAndGlyphs" transform="rotate(-90 19.80 378.80)" >Log2-fold change in expression</text>
<text x="32.90" y="378.80" font-size="9.6" fill="#111" text-anchor="middle" textLength="73.60" lengthAdjust="spacingAndGlyphs" transform="rotate(-90 32.90 378.80)" >(pCDH-hNR2F6 or</text>
<text x="46.40" y="377.30" font-size="9.6" fill="#111" text-anchor="middle" textLength="66.60" lengthAdjust="spacingAndGlyphs" transform="rotate(-90 46.40 377.30)" >hSGMS1/pCDH)</text>
<text x="85.20" y="460.80" font-size="11.0" fill="#2a7d2a" stroke="#2a7d2a" stroke-width="0.2" text-anchor="end" textLength="22.47" lengthAdjust="spacingAndGlyphs" transform="rotate(-45 85.20 460.80)" >NR2F6</text>
<text x="100.60" y="460.80" font-size="11.0" fill="#2a7d2a" stroke="#2a7d2a" stroke-width="0.2" text-anchor="end" textLength="34.77" lengthAdjust="spacingAndGlyphs" transform="rotate(-45 100.60 460.80)" >MIR-130b</text>
<text x="116.00" y="460.80" font-size="11.0" fill="#2a7d2a" stroke="#2a7d2a" stroke-width="0.2" text-anchor="end" textLength="34.77" lengthAdjust="spacingAndGlyphs" transform="rotate(-45 116.00 460.80)" >MIR-128a</text>
<text x="131.40" y="460.80" font-size="11.0" fill="#2a7d2a" stroke="#2a7d2a" stroke-width="0.2" text-anchor="end" textLength="29.43" lengthAdjust="spacingAndGlyphs" transform="rotate(-45 131.40 460.80)" >MLL-AF4</text>
<text x="146.80" y="460.80" font-size="11.0" fill="#2a7d2a" stroke="#2a7d2a" stroke-width="0.2" text-anchor="end" textLength="22.79" lengthAdjust="spacingAndGlyphs" transform="rotate(-45 146.80 460.80)" >MEIS1</text>
<text x="162.20" y="460.80" font-size="11.0" fill="#2a7d2a" stroke="#2a7d2a" stroke-width="0.2" text-anchor="end" textLength="22.90" lengthAdjust="spacingAndGlyphs" transform="rotate(-45 162.20 460.80)" >HOXA9</text>
<text x="177.60" y="460.80" font-size="11.0" fill="#2a7d2a" stroke="#2a7d2a" stroke-width="0.2" text-anchor="end" textLength="18.19" lengthAdjust="spacingAndGlyphs" transform="rotate(-45 177.60 460.80)" >CDK6</text>
<text x="193.00" y="460.80" font-size="11.0" fill="#2a7d2a" stroke="#2a7d2a" stroke-width="0.2" text-anchor="end" textLength="17.55" lengthAdjust="spacingAndGlyphs" transform="rotate(-45 193.00 460.80)" >BCL2</text>
<text x="208.40" y="460.80" font-size="11.0" fill="#2a7d2a" stroke="#2a7d2a" stroke-width="0.2" text-anchor="end" textLength="26.21" lengthAdjust="spacingAndGlyphs" transform="rotate(-45 208.40 460.80)" >SGMS1</text>
<text x="223.80" y="460.80" font-size="11.0" fill="#fc00fc" stroke="#fc00fc" stroke-width="0.2" text-anchor="end" textLength="26.21" lengthAdjust="spacingAndGlyphs" transform="rotate(-45 223.80 460.80)" >SGMS1</text>
<text x="361.50" y="278.70" font-size="12.1" fill="#111" stroke="#111" stroke-width="0.2" text-anchor="middle" textLength="71.50" lengthAdjust="spacingAndGlyphs" >Survival curve</text>
<text x="361.50" y="293.00" font-size="12.1" fill="#111" stroke="#111" stroke-width="0.2" text-anchor="middle" textLength="111.30" lengthAdjust="spacingAndGlyphs" >NSG mice (SEM cells)</text>
<line x1="293.20" y1="372.40" x2="430.00" y2="372.40" stroke="#3a3a3a" stroke-width="1.4" stroke-dasharray="5.6 1.1"/>
<path d="M402.66,305.30 V332.66 H414.05 V359.42 H430.00" stroke="#0f7a0f" stroke-width="2.0" fill="none" />
<path d="M293.20,305.90 H400.38 V328.24 H402.96 V439.70" stroke="#bccad6" stroke-width="1.8" fill="none" />
<line x1="293.20" y1="300.10" x2="293.20" y2="440.40" stroke="#000" stroke-width="1.55" />
<line x1="289.40" y1="439.70" x2="293.20" y2="439.70" stroke="#000" stroke-width="1.55" />
<text x="286.20" y="443.30" font-size="10.2" fill="#1a1a1a" stroke="#1a1a1a" stroke-width="0.08" text-anchor="end" textLength="5.25" lengthAdjust="spacingAndGlyphs" >0</text>
<line x1="289.40" y1="426.32" x2="293.20" y2="426.32" stroke="#000" stroke-width="1.55" />
<text x="286.20" y="429.92" font-size="10.2" fill="#1a1a1a" stroke="#1a1a1a" stroke-width="0.08" text-anchor="end" textLength="10.50" lengthAdjust="spacingAndGlyphs" >10</text>
<line x1="289.40" y1="412.94" x2="293.20" y2="412.94" stroke="#000" stroke-width="1.55" />
<text x="286.20" y="416.54" font-size="10.2" fill="#1a1a1a" stroke="#1a1a1a" stroke-width="0.08" text-anchor="end" textLength="10.50" lengthAdjust="spacingAndGlyphs" >20</text>
<line x1="289.40" y1="399.56" x2="293.20" y2="399.56" stroke="#000" stroke-width="1.55" />
<text x="286.20" y="403.16" font-size="10.2" fill="#1a1a1a" stroke="#1a1a1a" stroke-width="0.08" text-anchor="end" textLength="10.50" lengthAdjust="spacingAndGlyphs" >30</text>
<line x1="289.40" y1="386.18" x2="293.20" y2="386.18" stroke="#000" stroke-width="1.55" />
<text x="286.20" y="389.78" font-size="10.2" fill="#1a1a1a" stroke="#1a1a1a" stroke-width="0.08" text-anchor="end" textLength="10.50" lengthAdjust="spacingAndGlyphs" >40</text>
<line x1="289.40" y1="372.80" x2="293.20" y2="372.80" stroke="#000" stroke-width="1.55" />
<text x="286.20" y="376.40" font-size="10.2" fill="#1a1a1a" stroke="#1a1a1a" stroke-width="0.08" text-anchor="end" textLength="10.50" lengthAdjust="spacingAndGlyphs" >50</text>
<line x1="289.40" y1="359.42" x2="293.20" y2="359.42" stroke="#000" stroke-width="1.55" />
<text x="286.20" y="363.02" font-size="10.2" fill="#1a1a1a" stroke="#1a1a1a" stroke-width="0.08" text-anchor="end" textLength="10.50" lengthAdjust="spacingAndGlyphs" >60</text>
<line x1="289.40" y1="346.04" x2="293.20" y2="346.04" stroke="#000" stroke-width="1.55" />
<text x="286.20" y="349.64" font-size="10.2" fill="#1a1a1a" stroke="#1a1a1a" stroke-width="0.08" text-anchor="end" textLength="10.50" lengthAdjust="spacingAndGlyphs" >70</text>
<line x1="289.40" y1="332.66" x2="293.20" y2="332.66" stroke="#000" stroke-width="1.55" />
<text x="286.20" y="336.26" font-size="10.2" fill="#1a1a1a" stroke="#1a1a1a" stroke-width="0.08" text-anchor="end" textLength="10.50" lengthAdjust="spacingAndGlyphs" >80</text>
<line x1="289.40" y1="319.28" x2="293.20" y2="319.28" stroke="#000" stroke-width="1.55" />
<text x="286.20" y="322.88" font-size="10.2" fill="#1a1a1a" stroke="#1a1a1a" stroke-width="0.08" text-anchor="end" textLength="10.50" lengthAdjust="spacingAndGlyphs" >90</text>
<line x1="289.40" y1="305.90" x2="293.20" y2="305.90" stroke="#000" stroke-width="1.55" />
<text x="286.20" y="309.50" font-size="10.2" fill="#1a1a1a" stroke="#1a1a1a" stroke-width="0.08" text-anchor="end" textLength="15.75" lengthAdjust="spacingAndGlyphs" >100</text>
<line x1="292.50" y1="439.70" x2="430.70" y2="439.70" stroke="#000" stroke-width="1.55" />
<line x1="293.30" y1="439.70" x2="293.30" y2="442.70" stroke="#000" stroke-width="1.55" />
<text x="293.30" y="454.00" font-size="10.2" fill="#1a1a1a" stroke="#1a1a1a" stroke-width="0.08" text-anchor="middle" textLength="5.25" lengthAdjust="spacingAndGlyphs" >0</text>
<line x1="316.08" y1="439.70" x2="316.08" y2="442.70" stroke="#000" stroke-width="1.55" />
<text x="316.08" y="454.00" font-size="10.2" fill="#1a1a1a" stroke="#1a1a1a" stroke-width="0.08" text-anchor="middle" textLength="10.50" lengthAdjust="spacingAndGlyphs" >10</text>
<line x1="338.87" y1="439.70" x2="338.87" y2="442.70" stroke="#000" stroke-width="1.55" />
<text x="338.87" y="454.00" font-size="10.2" fill="#1a1a1a" stroke="#1a1a1a" stroke-width="0.08" text-anchor="middle" textLength="10.50" lengthAdjust="spacingAndGlyphs" >20</text>
<line x1="361.65" y1="439.70" x2="361.65" y2="442.70" stroke="#000" stroke-width="1.55" />
<text x="361.65" y="454.00" font-size="10.2" fill="#1a1a1a" stroke="#1a1a1a" stroke-width="0.08" text-anchor="middle" textLength="10.50" lengthAdjust="spacingAndGlyphs" >30</text>
<line x1="384.43" y1="439.70" x2="384.43" y2="442.70" stroke="#000" stroke-width="1.55" />
<text x="384.43" y="454.00" font-size="10.2" fill="#1a1a1a" stroke="#1a1a1a" stroke-width="0.08" text-anchor="middle" textLength="10.50" lengthAdjust="spacingAndGlyphs" >40</text>
<line x1="407.22" y1="439.70" x2="407.22" y2="442.70" stroke="#000" stroke-width="1.55" />
<text x="407.22" y="454.00" font-size="10.2" fill="#1a1a1a" stroke="#1a1a1a" stroke-width="0.08" text-anchor="middle" textLength="10.50" lengthAdjust="spacingAndGlyphs" >50</text>
<line x1="430.00" y1="439.70" x2="430.00" y2="442.70" stroke="#000" stroke-width="1.55" />
<text x="430.00" y="454.00" font-size="10.2" fill="#1a1a1a" stroke="#1a1a1a" stroke-width="0.08" text-anchor="middle" textLength="10.50" lengthAdjust="spacingAndGlyphs" >60</text>
<text x="362.00" y="468.30" font-size="10.6" fill="#111" stroke="#111" stroke-width="0.2" text-anchor="middle" textLength="110.00" lengthAdjust="spacingAndGlyphs" >Time (days post-transplant)</text>
<text x="261.00" y="368.30" font-size="10.6" fill="#1a1a1a" stroke="#1a1a1a" stroke-width="0.05" text-anchor="middle" textLength="62.30" lengthAdjust="spacingAndGlyphs" transform="rotate(-90 261.00 368.30)" >Percent survival</text>
<path d="M404.2,349.2 V353.8 M404.2,351.5 H412.2 M412.2,349.2 V353.8" stroke="#000" stroke-width="1.2" fill="none" />
<path d="M408.40,345.29 L408.92,346.47 L410.21,346.60 L409.25,347.47 L409.52,348.73 L408.40,348.08 L407.28,348.73 L407.55,347.47 L406.59,346.60 L407.88,346.47 Z" fill="#000"/>
<line x1="413.20" y1="308.40" x2="420.90" y2="308.40" stroke="#b8c6d3" stroke-width="1.6" />
<line x1="413.20" y1="320.90" x2="420.90" y2="320.90" stroke="#0f7a0f" stroke-width="2.4" />
<circle cx="417.2" cy="308.0" r="0.95" fill="#222"/>
<circle cx="417.2" cy="319.8" r="0.95" fill="#222"/>
<text x="424.00" y="310.00" font-size="10" fill="#a6b6c6" stroke="#a6b6c6" stroke-width="0.2" textLength="87.00" lengthAdjust="spacingAndGlyphs" >pCDH (empty vector)</text>
<text x="424.00" y="322.50" font-size="10" fill="#2a7d2a" stroke="#2a7d2a" stroke-width="0.2" textLength="61.50" lengthAdjust="spacingAndGlyphs" >pCDH-hNR2F6</text>
<text x="432.90" y="350.20" font-size="9.8" fill="#2a7d2a" stroke="#2a7d2a" stroke-width="0.2" textLength="55.80" lengthAdjust="spacingAndGlyphs" >2 sick/5 total</text>
<text x="432.90" y="361.90" font-size="9.8" fill="#2a7d2a" stroke="#2a7d2a" stroke-width="0.2" textLength="70.20" lengthAdjust="spacingAndGlyphs" >Median survival:</text>
<text x="432.90" y="373.50" font-size="9.8" fill="#2a7d2a" stroke="#2a7d2a" stroke-width="0.2" textLength="44.20" lengthAdjust="spacingAndGlyphs" >undefined</text>
<text x="297.30" y="424.50" font-size="9.8" fill="#a6b6c6" stroke="#a6b6c6" stroke-width="0.2" textLength="52.70" lengthAdjust="spacingAndGlyphs" >6 sick/6 total</text>
<text x="297.30" y="434.30" font-size="9.8" fill="#a6b6c6" stroke="#a6b6c6" stroke-width="0.2" textLength="100.30" lengthAdjust="spacingAndGlyphs" >Median survival: 48 days</text>
</svg>
</body></html>
